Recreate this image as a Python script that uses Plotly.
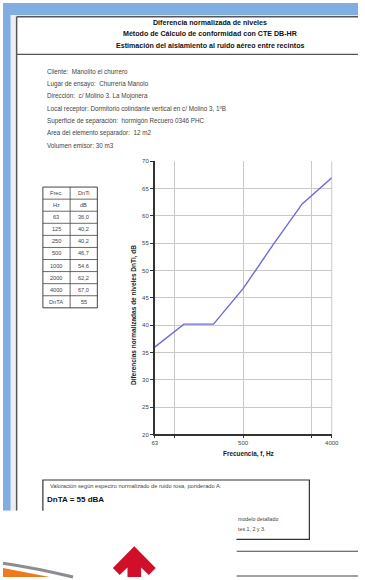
import plotly.graph_objects as go

W, H = 365, 580

# ---- data ----
freqs = [63, 125, 250, 500, 1000, 2000, 4000]
dnti = [36.0, 40.2, 40.2, 46.7, 54.6, 62.2, 67.0]
dnta = 55
title_lines = [
    "Diferencia normalizada de niveles",
    "Método de Cálculo de conformidad con CTE DB-HR",
    "Estimación del aislamiento al ruido aéreo entre recintos",
]
info_lines = [
    "Cliente:  Manolito el churrero",
    "Lugar de ensayo:  Churrería Manolo",
    "Dirección:  c/ Molino 3. La Mojonera",
    "Local receptor: Dormitorio colindante vertical en c/ Molino 3, 1ºB",
    "Superficie de separación:  hormigón Recuero 0346 PHC",
    "Area del elemento separador:  12 m2",
    "Volumen emisor: 30 m3",
]
x_tickvals = [63, 100, 500, 2500, 4000]
x_ticktext = ["63", "", "500", "", "4000"]
y_title = "Diferencias normalizadas de niveles DnTi, dB"
x_title = "Frecuencia, f, Hz"
val_text = "Valoración según espectro normalizado de ruido rosa, ponderado A:"
frag_lines = ["modelo detallado", "tes 1, 2 y 3."]


def px(x):
    return x / W


def py(y):
    return 1 - y / H


FONT = "Liberation Sans, Arial, sans-serif"
shapes = []
ann = []


def rect(x0, y0, x1, y1, fill=None, line=None, lw=0, layer="below"):
    shapes.append(dict(type="rect", xref="paper", yref="paper",
                       x0=px(x0), x1=px(x1), y0=py(y1), y1=py(y0),
                       fillcolor=fill or "rgba(0,0,0,0)",
                       line=dict(color=line or "rgba(0,0,0,0)", width=lw),
                       layer=layer))


def hline(x0, x1, y, color="#555", lw=1, layer="below"):
    shapes.append(dict(type="line", xref="paper", yref="paper",
                       x0=px(x0), x1=px(x1), y0=py(y), y1=py(y),
                       line=dict(color=color, width=lw), layer=layer))


def vline(x, y0, y1, color="#555", lw=1, layer="below"):
    shapes.append(dict(type="line", xref="paper", yref="paper",
                       x0=px(x), x1=px(x), y0=py(y0), y1=py(y1),
                       line=dict(color=color, width=lw), layer=layer))


def text(x, y, s, size=6, color="#333", anchor="left", bold=False, angle=0):
    ann.append(dict(xref="paper", yref="paper", x=px(x), y=py(y),
                    text=f"<b>{s}</b>" if bold else s, showarrow=False,
                    xanchor=anchor, yanchor="middle", textangle=angle,
                    font=dict(family=FONT, size=size, color=color)))


# background blue frame
rect(0, 0, W, 12, fill="#80aee3")
rect(0, 0, 8, 513, fill="#80aee3")
rect(8, 12, W, 14, fill="#e6e6e6")
rect(8, 12, 13, 513, fill="#eeeeee")
# page borders
hline(14, W, 14, color="#555", lw=1.5)
vline(14, 14, 513, color="#555", lw=1.5)
hline(14, W, 52, color="#555", lw=1.2)

for i, t in enumerate(title_lines):
    text(213, 20 + i * 11.8, t, size=7.1, color="#111", anchor="center", bold=True)

for i, t in enumerate(info_lines):
    text(43, 69.3 + i * 12.45, t, size=6.3, color="#444")

# table
tx0, tx1, tx2 = 41, 69, 97
ty0, rowh = 186, 12.2
rows = [("Frec.", "DnTi"), ("Hz", "dB")]
rows += [(str(f), f"{v:.1f}".replace(".", ",")) for f, v in zip(freqs, dnti)]
rows += [("DnTA", str(dnta))]
nrows = len(rows)
rect(tx0, ty0, tx2, ty0 + nrows * rowh, line="#444", lw=1)
vline(tx1, ty0, ty0 + nrows * rowh, color="#444", lw=0.8)
for i, (a, b) in enumerate(rows):
    yc = ty0 + (i + 0.5) * rowh
    if i > 0:
        hline(tx0, tx2, ty0 + i * rowh, color="#444", lw=0.8)
    text((tx0 + tx1) / 2, yc, a, size=5.6, color="#444", anchor="center")
    text((tx1 + tx2) / 2, yc, b, size=5.6, color="#444", anchor="center")

# axis titles
text(134, 315, y_title, size=6.5, color="#222", anchor="center", bold=True, angle=-90)
text(252, 456, x_title, size=6.4, color="#222", anchor="center", bold=True)

# evaluation box
rect(41, 482, 315, 542, line="#333", lw=1.2)
text(46, 488, val_text, size=5.7, color="#444")
text(43, 502, "DnTA = " + str(dnta) + " dBA", size=8, color="#111", bold=True)

# overlay covering part of the page (bottom-left white area)
rect(0, 513, 240, H, fill="#ffffff", layer="above")
for i, t in enumerate(frag_lines):
    text(240, 521.5 + i * 10, t, size=5.3, color="#444")
hline(240, W, 554, color="#444", lw=1.2)
hline(240, W, 579, color="#444", lw=1.2)

# orange/gray swoosh
shapes.append(dict(type="path", xref="paper", yref="paper",
                   path=f"M {px(0)},{py(571)} L {px(48)},{py(580)} L {px(0)},{py(580)} Z",
                   fillcolor="#ee7a1e", line=dict(width=0), layer="above"))
shapes.append(dict(type="path", xref="paper", yref="paper",
                   path=f"M {px(0)},{py(566)} Q {px(35)},{py(571)} {px(72)},{py(580)}",
                   line=dict(color="#8a8d92", width=3), layer="above"))
# red arrow
pts = [(135, 549), (157, 571), (150, 578), (142, 570.5), (142, 580),
       (128, 580), (128, 570.5), (120, 578), (113, 571)]
path = "M " + " L ".join(f"{px(a)},{py(b)}" for a, b in pts) + " Z"
shapes.append(dict(type="path", xref="paper", yref="paper", path=path,
                   fillcolor="#d20f2a", line=dict(width=0), layer="above"))

fig = go.Figure()
fig.add_trace(go.Scatter(x=freqs, y=dnti, mode="lines",
                         line=dict(color="#6b6bdc", width=1.4),
                         hoverinfo="skip", showlegend=False))

fig.update_layout(
    width=W, height=H, margin=dict(l=0, r=0, t=0, b=0),
    paper_bgcolor="#ffffff", plot_bgcolor="#ffffff",
    showlegend=False, shapes=shapes, annotations=ann,
    xaxis=dict(type="log", domain=[px(156), px(338)],
               range=[1.7993405, 3.60206],
               tickvals=x_tickvals, ticktext=x_ticktext,
               showgrid=True, gridcolor="#c8c8c8", gridwidth=1,
               showline=True, linecolor="#333", linewidth=1.5,
               ticks="outside", ticklen=2, tickcolor="#333",
               tickfont=dict(family=FONT, size=6, color="#444"),
               zeroline=False, fixedrange=True),
    yaxis=dict(domain=[py(436), py(160)], range=[20, 70], dtick=5,
               showgrid=True, gridcolor="#c8c8c8", gridwidth=1,
               showline=True, linecolor="#333", linewidth=1.5,
               ticks="outside", ticklen=3, tickcolor="#333",
               tickfont=dict(family=FONT, size=6, color="#444"),
               zeroline=False, fixedrange=True),
)
# right border of plot area
fig.add_shape(type="line", xref="paper", yref="paper",
              x0=px(338), x1=px(338), y0=py(436), y1=py(160),
              line=dict(color="#c8c8c8", width=1), layer="below")

fig.write_html(
    "out.html",
    config={"displayModeBar": False},
    post_script="document.body.style.margin='0';document.body.style.padding='0';"
                "document.body.style.overflow='hidden';",
)
